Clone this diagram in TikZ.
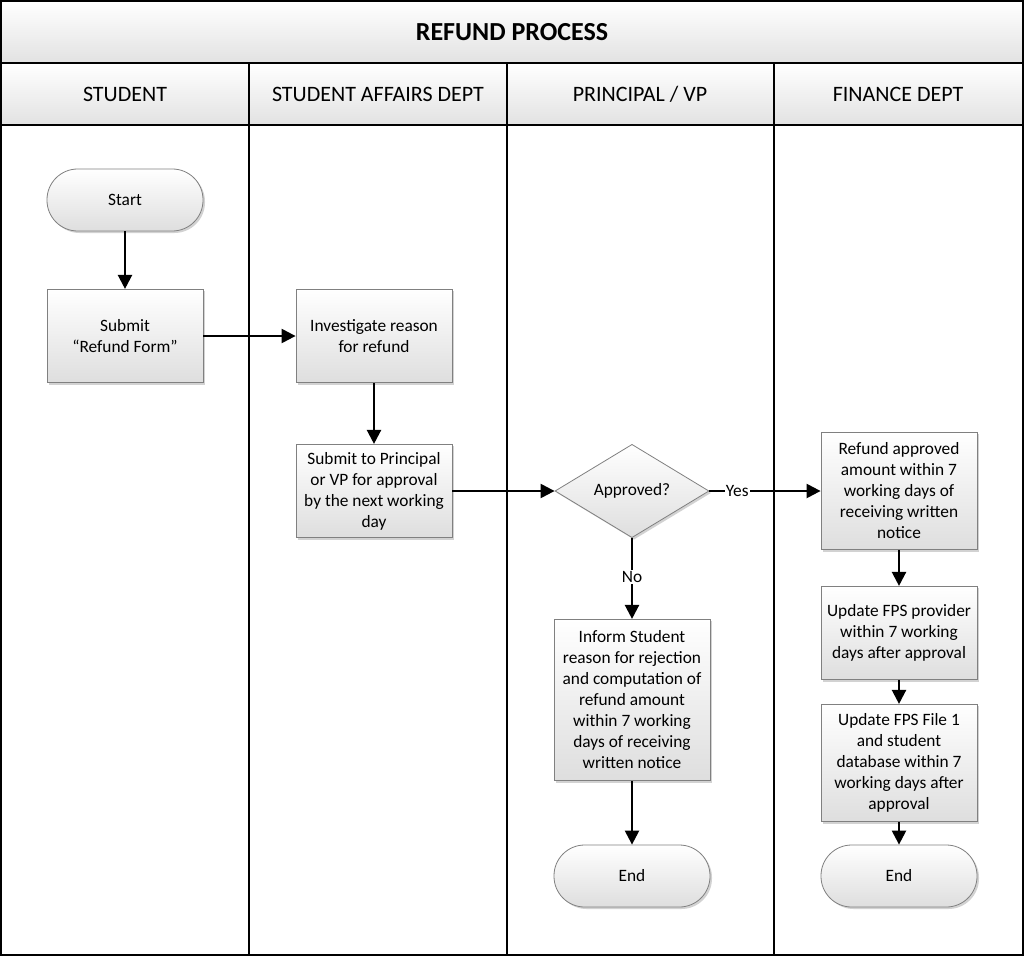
\documentclass[tikz,border=0pt]{standalone}
\usepackage{fontspec}
\setmainfont{Carlito}
\usetikzlibrary{shapes.geometric,shadows,arrows.meta}
\definecolor{boxline}{RGB}{128,128,128}
\definecolor{boxlow}{RGB}{222,222,222}
\definecolor{headlow}{RGB}{226,226,226}
\tikzset{flow/.style={-{Triangle[length=10.5pt,width=10.5pt]},line width=1.7pt}}
\tikzset{shade/.style={draw=boxline,line width=0.6pt,top color=white,bottom color=boxlow,drop shadow={shadow xshift=1.5pt,shadow yshift=-1.5pt,fill=black!35,opacity=.5}}}
\tikzset{task/.style={shade,rectangle,minimum width=117pt,minimum height=70pt,align=center,inner sep=0pt,font=\fontsize{13}{15.75}\selectfont}}
\tikzset{term/.style={task,rounded corners=23pt,minimum height=46.5pt}}
\tikzset{choice/.style={shade,diamond,minimum width=115.5pt,minimum height=70pt,inner sep=0pt,font=\fontsize{13}{15.75}\selectfont}}
\tikzset{head/.style={draw=black,line width=1.3pt,top color=white,bottom color=headlow}}
\tikzset{lanename/.style={font=\fontsize{16.5}{19}\selectfont}}
\tikzset{lbl/.style={fill=white,inner sep=1pt,font=\fontsize{13}{15}\selectfont}}

\begin{document}
\begin{tikzpicture}[x=0.75pt,y=-0.75pt]
    \useasboundingbox (0,0) rectangle (1024,956);
    \fill[white] (0,0) rectangle (1024,956);
    \draw[head] (1,1) rectangle (1023,63);
    \draw[head] (1,63) rectangle (249,125);
    \draw[head] (249,63) rectangle (507,125);
    \draw[head] (507,63) rectangle (774,125);
    \draw[head] (774,63) rectangle (1023,125);
    \node[font=\fontsize{19.5}{22}\bfseries] (title) at (512,32) {REFUND PROCESS};
    \node[lanename] (lane1) at (125,94) {STUDENT};
    \node[lanename] (lane2) at (378,94) {STUDENT AFFAIRS DEPT};
    \node[lanename] (lane3) at (640,94) {PRINCIPAL / VP};
    \node[lanename] (lane4) at (898,94) {FINANCE DEPT};
    \draw[line width=1.3pt] (1,125) rectangle (1023,955);
    \draw[line width=1.3pt] (249,125) -- (249,955);
    \draw[line width=1.3pt] (507,125) -- (507,955);
    \draw[line width=1.3pt] (774,125) -- (774,955);
    \node[term] (start) at (125,200) {Start};
    \node[task] (submit) at (125,336) {Submit\\``Refund Form''};
    \node[task] (invest) at (374,336) {Investigate reason\\for refund};
    \node[task] (topvp) at (374,491) {Submit to Principal\\or VP for approval\\by the next working\\day};
    \node[choice] (appr) at (632,491) {Approved?};
    \node[task,minimum height=121pt] (inform) at (632,700) {Inform Student\\reason for rejection\\and computation of\\refund amount\\within 7 working\\days of receiving\\written notice};
    \node[term] (end1) at (632,876) {End};
    \node[task,minimum height=88pt] (refund) at (899,491) {Refund approved\\amount within 7\\working days of\\receiving written\\notice};
    \node[task] (fps) at (899,633) {Update FPS provider\\within 7 working\\days after approval};
    \node[task,minimum height=88pt] (file) at (899,763) {Update FPS File 1\\and student\\database within 7\\working days after\\approval};
    \node[term] (end2) at (899,876) {End};
    \draw[flow] (start) -- (submit);
    \draw[flow] (submit) -- (invest);
    \draw[flow] (invest) -- (topvp);
    \draw[flow] (topvp) -- (appr);
    \draw[flow] (appr) -- node[lbl,pos=0.25] {Yes} (refund);
    \draw[flow] (appr) -- node[lbl,pos=0.48] {No} (inform);
    \draw[flow] (inform) -- (end1);
    \draw[flow] (refund) -- (fps);
    \draw[flow] (fps) -- (file);
    \draw[flow] (file) -- (end2);
\end{tikzpicture}
\end{document}
